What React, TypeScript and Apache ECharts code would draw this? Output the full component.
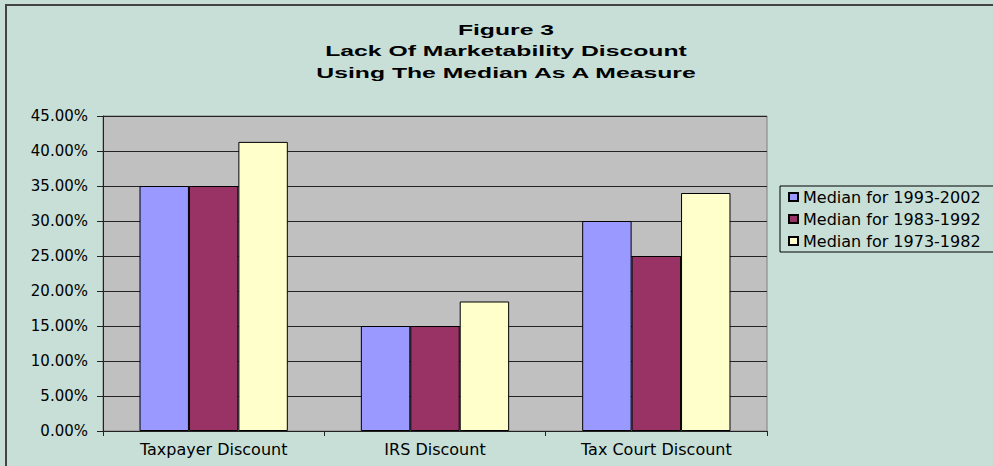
import React, { useEffect, useRef } from "react";
import * as echarts from "echarts";

const categories = ["Taxpayer Discount", "IRS Discount", "Tax Court Discount"];
const seriesNames = ["Median for 1993-2002", "Median for 1983-1992", "Median for 1973-1982"];
const median1993_2002 = [35, 15, 30];
const median1983_1992 = [35, 15, 25];
const median1973_1982 = [41.3, 18.5, 34];
const titleLines = ["Figure 3", "Lack Of Marketability Discount", "Using The Median As A Measure"];
const colors = ["#9999FF", "#993366", "#FFFFCC"];

export default function App() {
  const ref = useRef<HTMLDivElement>(null);
  useEffect(() => {
    if (!ref.current) return;
    const chart = echarts.init(ref.current, undefined, { renderer: "svg" });
    const values = [median1993_2002, median1983_1992, median1973_1982];
    const labelFont = "DejaVu Sans";
    chart.setOption({
      animation: false,
      backgroundColor: "#C7DFD7",
      graphic: [
        {
          type: "rect",
          shape: { x: 6, y: 5, width: 1000, height: 500 },
          style: { fill: "none", stroke: "#444", lineWidth: 2 },
          silent: true,
        },
        ...titleLines.map((t, i) => ({
          type: "text",
          x: 506,
          y: [30, 51, 73][i],
          scaleX: 1.65,
          style: {
            text: t,
            font: "bold 15px 'Liberation Sans', Arial, sans-serif",
            fill: "#000",
            textAlign: "center",
            textVerticalAlign: "middle",
          },
        })),
      ],
      legend: {
        orient: "vertical",
        left: 780,
        top: 186,
        padding: [3, 60, 3, 8],
        itemWidth: 9,
        itemHeight: 8,
        itemGap: 6,
        borderColor: "#000",
        borderWidth: 1,
        backgroundColor: "transparent",
        icon: "rect",
        textStyle: { fontFamily: labelFont, fontSize: 16, color: "#000", lineHeight: 14 },
        data: seriesNames,
      },
      grid: {
        left: 103,
        right: 226,
        top: 116,
        bottom: 35,
        show: true,
        backgroundColor: "#C0C0C0",
        borderColor: "#808080",
        borderWidth: 1,
      },
      xAxis: {
        type: "category",
        data: categories,
        boundaryGap: true,
        axisLine: { show: true, lineStyle: { color: "#222", width: 1 } },
        axisTick: { show: true, alignWithLabel: false, length: 5, lineStyle: { color: "#222" } },
        axisLabel: { fontFamily: labelFont, fontSize: 16, color: "#000", margin: 10 },
        splitLine: { show: false },
      },
      yAxis: {
        type: "value",
        min: 0,
        max: 45,
        interval: 5,
        axisLine: { show: true, lineStyle: { color: "#222", width: 1 } },
        axisTick: { show: true, inside: false, length: 6, lineStyle: { color: "#222" } },
        axisLabel: {
          fontFamily: labelFont,
          fontSize: 15,
          color: "#000",
          margin: 15,
          formatter: (v: number) => v.toFixed(2) + "%",
        },
        splitLine: { show: true, lineStyle: { color: "#222", width: 1 } },
      },
      series: seriesNames.map((name, i) => ({
        name,
        type: "bar",
        data: values[i],
        barGap: "0%",
        barCategoryGap: "33%",
        itemStyle: { color: colors[i], borderColor: "#000", borderWidth: 1 },
      })),
    });
    return () => chart.dispose();
  }, []);
  return (
    <div
      ref={ref}
      style={{ position: "absolute", left: 0, top: 0, width: 993, height: 466 }}
    />
  );
}
